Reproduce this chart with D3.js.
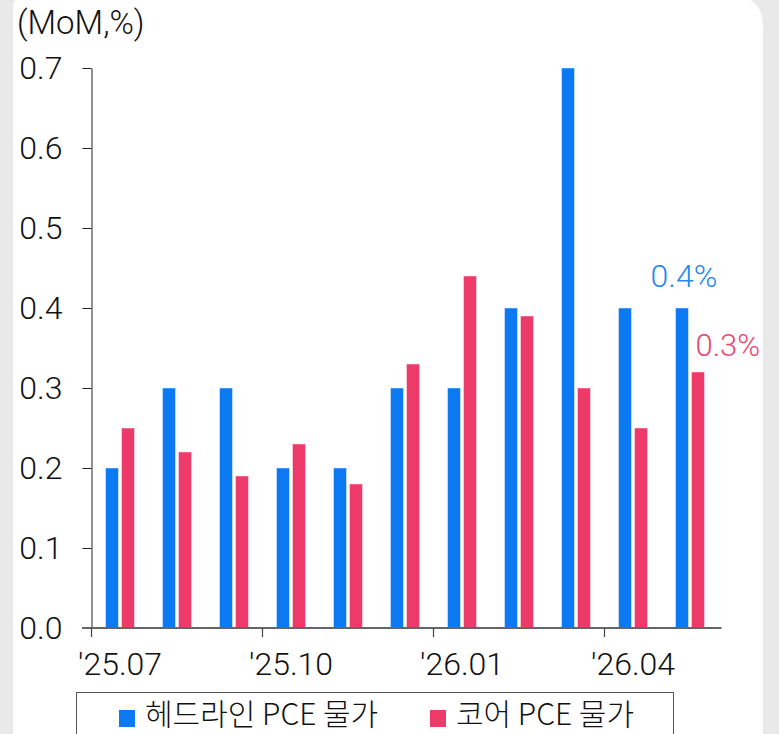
<!DOCTYPE html>
<html>
<head>
<meta charset="utf-8">
<script src="https://cdn.jsdelivr.net/npm/d3@7"></script>
<style>
  html, body { margin: 0; padding: 0; background: #e9e9e9; }
  svg { display: block; }
  text { font-family: Roboto, "Noto Sans", sans-serif; font-weight: 300; }
</style>
</head>
<body>
<svg></svg>
<script>
var months = ["'25.07", "'25.08", "'25.09", "'25.10", "'25.11", "'25.12",
              "'26.01", "'26.02", "'26.03", "'26.04", "'26.05"];
var headline = [0.2, 0.3, 0.3, 0.2, 0.2, 0.3, 0.3, 0.4, 0.7, 0.4, 0.4];
var core = [0.25, 0.22, 0.19, 0.23, 0.18, 0.33, 0.44, 0.39, 0.30, 0.25, 0.32];
var yTicks = [0, 0.1, 0.2, 0.3, 0.4, 0.5, 0.6, 0.7];
var labelMonths = ["'25.07", "'25.10", "'26.01", "'26.04"];
var seriesNames = ["헤드라인 PCE 물가", "코어 PCE 물가"];
var colors = ["#0b79f1", "#ee3a68"];
var labelColors = ["#2a88ea", "#e9476f"];

var svgWidth = 779, svgHeight = 734;

var svg = d3.select("svg")
    .attr("width", svgWidth)
    .attr("height", svgHeight);

// white panel (rounded top corners)
svg.append("path")
    .attr("d", "M13,760 L13,8 Q13,-4 25,-4 L732,-4 Q763,-4 763,27 L763,760 Z")
    .attr("fill", "white");

var x0 = d3.scaleBand()
    .domain(months)
    .range([91.5, 718.5]);

var x1 = d3.scaleBand()
    .domain([0, 1])
    .range([14, 43])
    .paddingInner(3 / 16);

var y = d3.scaleLinear()
    .domain([0, 0.7])
    .range([628, 68]);

var rows = months.map(function(m, i) {
    return { month: m, values: [headline[i], core[i]] };
});

// bars
var groups = svg.append("g").selectAll("g")
    .data(rows)
    .enter().append("g")
    .attr("transform", function(d) { return "translate(" + x0(d.month) + ",0)"; });

groups.selectAll("rect")
    .data(function(d) { return d.values.map(function(v, k) { return { k: k, v: v }; }); })
    .enter().append("rect")
    .attr("x", function(d) { return x1(d.k); })
    .attr("y", function(d) { return y(d.v); })
    .attr("width", x1.bandwidth())
    .attr("height", function(d) { return y(0) - y(d.v); })
    .attr("fill", function(d) { return colors[d.k]; })
    .style("stroke", "rgba(255,255,255,0.45)")
    .style("stroke-width", "1");

// y axis
var y_axis = d3.axisLeft(y)
    .tickValues(yTicks)
    .tickFormat(d3.format(".1f"))
    .tickSize(9)
    .tickSizeOuter(0)
    .tickPadding(20);

var gy = svg.append("g")
    .attr("transform", "translate(91.5,0)")
    .call(y_axis);
gy.select(".domain").attr("stroke", "#222");
gy.selectAll(".tick line").attr("stroke", "#222");
gy.selectAll(".tick text")
    .style("font-size", "32px")
    .style("font-family", "Roboto")
    .style("font-weight", "300")
    .style("fill", "#111");

// x axis labels
var x_axis = d3.axisBottom(x0)
    .tickValues(labelMonths)
    .tickSize(0)
    .tickPadding(24);

var gx = svg.append("g")
    .attr("transform", "translate(0,628)")
    .call(x_axis);
gx.select(".domain").remove();
gx.selectAll(".tick text")
    .style("font-size", "32px")
    .style("font-family", "Roboto")
    .style("font-weight", "300")
    .style("fill", "#111");

// x baseline and ticks at quarter starts
svg.append("line")
    .attr("x1", 82)
    .attr("x2", x0.range()[1] + 3)
    .attr("y1", y(0))
    .attr("y2", y(0))
    .style("stroke", "#666")
    .style("stroke-width", "2");

svg.append("g").selectAll("line")
    .data(labelMonths)
    .enter().append("line")
    .attr("x1", function(d) { return x0(d); })
    .attr("x2", function(d) { return x0(d); })
    .attr("y1", y(0))
    .attr("y2", y(0) + 9)
    .style("stroke", "#444")
    .style("stroke-width", "1.2");

// unit
svg.append("text")
    .attr("x", 17)
    .attr("y", 34)
    .style("font-size", "33px")
    .style("fill", "#111")
    .text("(MoM,%)");

// last-value labels
var last = months.length - 1;
svg.append("text")
    .attr("x", x0(months[last]) + x1(0) + x1.bandwidth() / 2 + 2)
    .attr("y", y(headline[last]) - 21)
    .attr("text-anchor", "middle")
    .style("font-size", "32px")
    .style("fill", labelColors[0])
    .text(d3.format(".1f")(headline[last]) + "%");

svg.append("text")
    .attr("x", x0(months[last]) + x1(1) + 4)
    .attr("y", y(core[last]) - 16)
    .attr("text-anchor", "start")
    .style("font-size", "31px")
    .style("fill", labelColors[1])
    .text(d3.format(".1f")(core[last]) + "%");

// legend
svg.append("rect")
    .attr("x", 76.5)
    .attr("y", 692.5)
    .attr("width", 597)
    .attr("height", 80)
    .attr("fill", "white")
    .style("stroke", "#555")
    .style("stroke-width", "1");

var legendX = [119, 430];
var lg = svg.append("g").selectAll("g")
    .data(seriesNames)
    .enter().append("g")
    .attr("transform", function(d, i) { return "translate(" + legendX[i] + ",0)"; });

lg.append("rect")
    .attr("x", 0)
    .attr("y", 710)
    .attr("width", 16)
    .attr("height", 17)
    .attr("fill", function(d, i) { return colors[i]; });

lg.append("text")
    .attr("x", 26)
    .attr("y", 725)
    .style("font-family", "'Noto Sans CJK KR', sans-serif")
    .style("font-size", "30px")
    .style("font-weight", "300")
    .style("fill", "#111")
    .text(function(d) { return d; });
</script>
</body>
</html>
